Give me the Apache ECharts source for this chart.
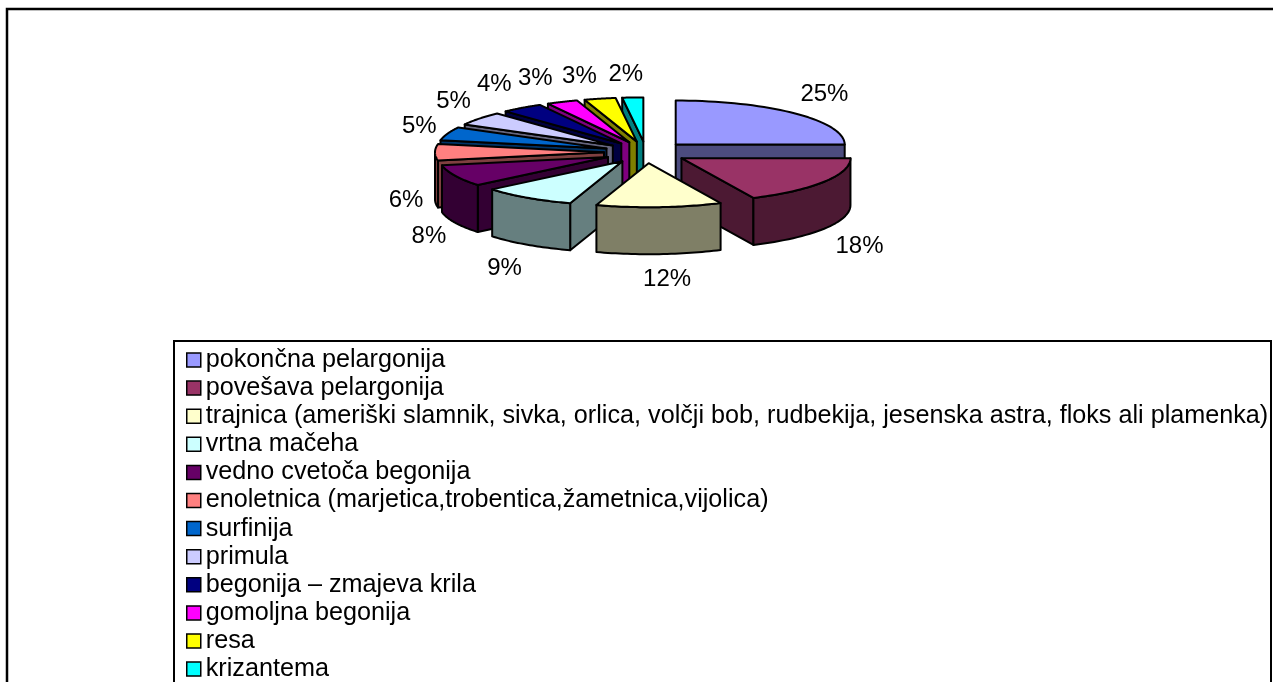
<!DOCTYPE html>
<html><head><meta charset="utf-8">
<style>html,body{margin:0;padding:0;background:#fff}#c{width:1273px;height:682px}</style>
<script src="https://cdn.jsdelivr.net/npm/echarts@6/dist/echarts.min.js"></script>
</head><body><div id="c"></div>
<script>
const categories = ['pokončna pelargonija','povešava pelargonija','trajnica (ameriški slamnik, sivka, orlica, volčji bob, rudbekija, jesenska astra, floks ali plamenka)','vrtna mačeha','vedno cvetoča begonija','enoletnica (marjetica,trobentica,žametnica,vijolica)','surfinija','primula','begonija – zmajeva krila','gomoljna begonija','resa','krizantema'];
const values = [25,18,12,9,8,6,5,5,4,3,3,2];
const topColors = ['#9999FF','#993366','#FFFFCC','#CCFFFF','#660066','#FF8080','#0066CC','#CCCCFF','#000080','#FF00FF','#FFFF00','#00FFFF'];
const sideColors = ['#4C4C7F','#4C1933','#7F7F66','#667F7F','#330033','#7F4040','#003366','#66667F','#000040','#7F007F','#7F7F00','#007F7F'];
const labelNudgeX = [8,10,6,-6,1,1,0,-2,-10,-15,-14,-5];
const labelNudgeY = [-4,6,3,5,4,1,0,-4,-6,-3,-1,-1];
const drawOrder = [11,10,9,8,7,6,5,4,3,0,1,2];

const cx=646, cy=152.3, rx=169, ry=44, depth=47, explode=42, lw=2;
const total = values.reduce((a,b)=>a+b,0);
const rad = p => p/total*2*Math.PI;

function slice(i){
  let before=0; for(let k=0;k<i;k++) before+=values[k];
  const a0=rad(before), a1=rad(before+values[i]), m=(a0+a1)/2;
  const ax=cx+explode*Math.sin(m), ay=cy-explode*ry/rx*Math.cos(m);
  const rim=t=>[ax+rx*Math.sin(t), ay-ry*Math.cos(t)];
  return {a0,a1,m,ax,ay,rim};
}
function renderSlice(i,api){
  const s=slice(i), ch=[], k=i;
  const line={stroke:'#000',lineWidth:lw,lineJoin:'round'};
  const poly=(pts,fill)=>ch.push({type:'polygon',shape:{points:pts},style:Object.assign({fill},line)});
  const down=p=>[p[0],p[1]+depth];
  const apex=[s.ax,s.ay];
  if(s.a0>=Math.PI-0.001){const r=s.rim(s.a0); poly([apex,r,down(r),down(apex)],sideColors[k]);}
  if(s.a1<=Math.PI){const r=s.rim(s.a1); poly([apex,r,down(r),down(apex)],sideColors[k]);}
  const lo=Math.max(s.a0,Math.PI/2), hi=Math.min(s.a1,Math.PI*1.5);
  if(hi>lo){
    const top=[],bot=[];
    for(let n=0;n<=32;n++){const p=s.rim(lo+(hi-lo)*n/32); top.push(p); bot.unshift(down(p));}
    poly(top.concat(bot),sideColors[k]);
  }
  const pts=[apex];
  for(let n=0;n<=40;n++) pts.push(s.rim(s.a0+(s.a1-s.a0)*n/40));
  poly(pts,topColors[k]);
  const c=Math.cos(s.m), sn=Math.sin(s.m);
  ch.push({type:'text',z2:100,style:{
    text:api.value(0)+'%',
    x:s.ax+(rx+30)*sn+labelNudgeX[k],
    y:s.ay-(ry+22)*c+(c<=0.01?depth:0)+labelNudgeY[k],
    align:'center',verticalAlign:'middle',fill:'#000',
    font:'24px "Liberation Sans", Arial, sans-serif'}});
  return {type:'group',children:ch};
}
const series = drawOrder.map((i,ord)=>({
  type:'custom',name:categories[i],coordinateSystem:'none',z:2+ord,silent:true,animation:false,
  itemStyle:{color:topColors[i]},
  data:[[values[i]]],
  encode:{value:0},
  renderItem:(p,api)=>renderSlice(i,api)
}));
const chart=echarts.init(document.getElementById('c'),null,{renderer:'canvas'});
chart.setOption({
  animation:false,
  backgroundColor:'#fff',
  graphic:[
    {type:'rect',z:0,shape:{x:7,y:9,width:1300,height:720},style:{fill:'none',stroke:'#000',lineWidth:2.5}},
    {type:'rect',z:0,shape:{x:174,y:341,width:1097,height:380},style:{fill:'none',stroke:'#000',lineWidth:2}}
  ],
  legend:{
    orient:'vertical',left:186,top:346,height:500,selectedMode:false,
    data:categories.map((n,i)=>({name:n,icon:'rect',itemStyle:{color:topColors[i],borderColor:'#000',borderWidth:1.5}})),
    itemWidth:14,itemHeight:14,itemGap:0.1,padding:0,
    textStyle:{color:'#000',fontFamily:'"Liberation Sans", Arial, sans-serif',fontSize:25.2,lineHeight:28}
  },
  series
});
</script></body></html>
